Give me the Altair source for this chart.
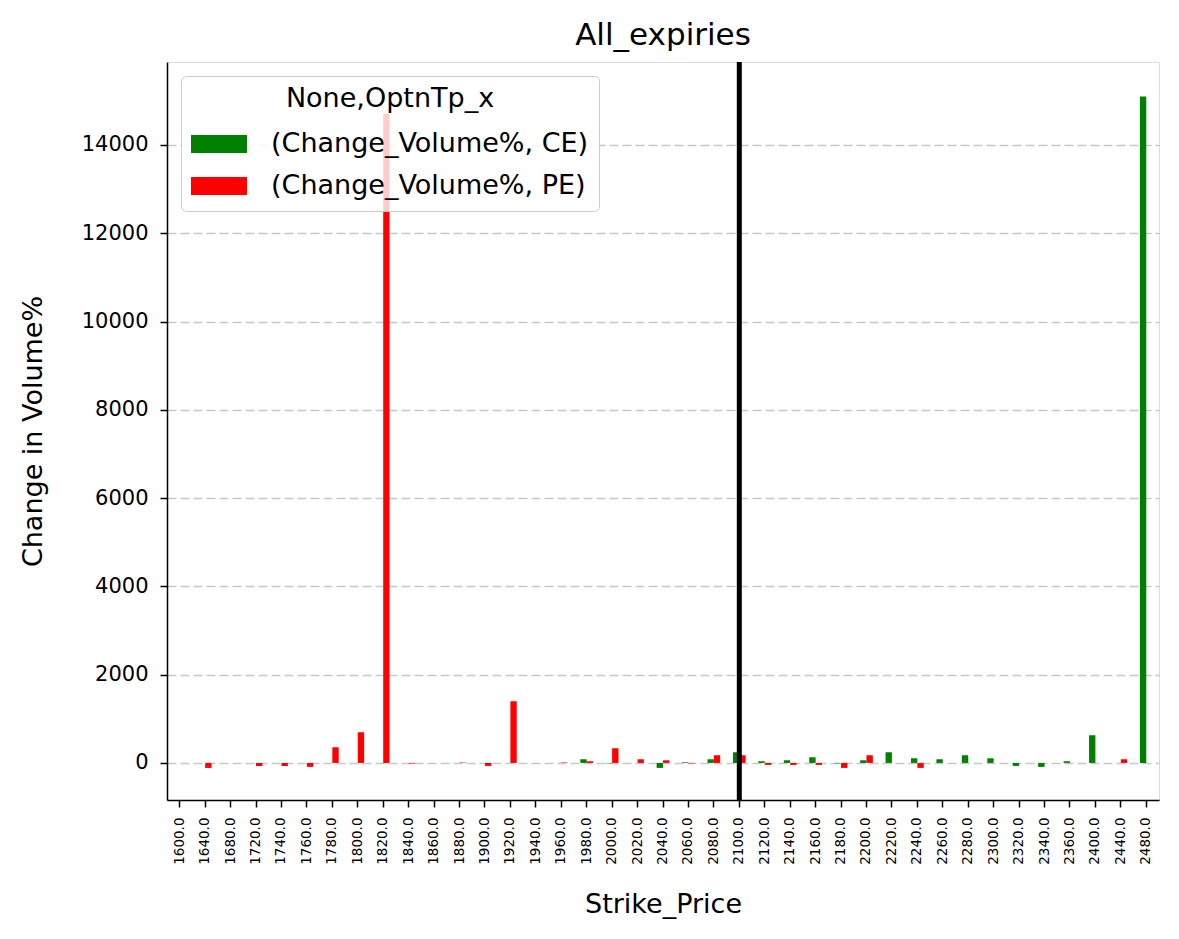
import altair as alt
import pandas as pd

# ---- data ----
strikes = [1600, 1640, 1680, 1720, 1740, 1760, 1780, 1800, 1820, 1840, 1860, 1880,
           1900, 1920, 1940, 1960, 1980, 2000, 2020, 2040, 2060, 2080, 2100, 2120,
           2140, 2160, 2180, 2200, 2220, 2240, 2260, 2280, 2300, 2320, 2340, 2360,
           2400, 2440, 2480]
strike_labels = ["%.1f" % s for s in strikes]

ce_change = [0, 0, 0, 0, 0, 0, 0, 0, 0, 0, 0, 0,
             0, 0, 0, 0, 83, -10, 0, -113, 15, 83, 242, 38,
             60, 128, -10, 60, 242, 105, 83, 174, 105, -68, -90, 38,
             627, 0, 15100]
pe_change = [0, -113, 0, -68, -68, -90, 355, 695, 14700, -15, 0, 10,
             -68, 1397, 0, 10, 38, 332, 83, 60, -10, 174, 174, -45,
             -45, -45, -113, 174, 0, -113, 0, 0, 0, 0, 0, 0,
             0, 83, 0]

series_names = ["(Change_Volume%, CE)", "(Change_Volume%, PE)"]
series_colors = ["#008000", "#ff0000"]
atm_strike = ["2100.0"]
y_ticks = [0, 2000, 4000, 6000, 8000, 10000, 12000, 14000]

rows = []
for lab, ce, pe in zip(strike_labels, ce_change, pe_change):
    rows.append({"strike": lab, "series": series_names[0], "value": ce})
    rows.append({"strike": lab, "series": series_names[1], "value": pe})
df = pd.DataFrame(rows)
df_rule = pd.DataFrame({"strike": atm_strike})

FONT = "DejaVu Sans"

x_enc = alt.X(
    "strike:N",
    sort=strike_labels,
    scale=alt.Scale(domain=strike_labels, paddingInner=0, paddingOuter=0),
    axis=alt.Axis(
        title="Strike_Price",
        labelAngle=270,
        labelFontSize=13.5,
        labelFont=FONT,
        labelColor="black",
        tickSize=7,
        tickWidth=1.5,
        tickColor="black",
        labelPadding=10,
        titleFontSize=27,
        titleFont=FONT,
        titleFontWeight="normal",
        titleColor="black",
        titlePadding=27,
        domainColor="black",
        domainWidth=1.5,
        grid=False,
    ),
)

bars = alt.Chart(df).mark_bar().encode(
    x=x_enc,
    xOffset=alt.XOffset(
        "series:N",
        scale=alt.Scale(domain=series_names, paddingInner=0, paddingOuter=1),
    ),
    y=alt.Y(
        "value:Q",
        scale=alt.Scale(domain=[-840, 15880], nice=False, zero=False),
        axis=alt.Axis(
            title="Change in Volume%",
            values=y_ticks,
            format="d",
            labelFontSize=21,
            labelFont=FONT,
            labelColor="black",
            tickSize=7,
            tickWidth=1.5,
            tickColor="black",
            labelPadding=12,
            titleFontSize=27,
            titleFont=FONT,
            titleFontWeight="normal",
            titleColor="black",
            titlePadding=34,
            grid=True,
            gridDash=[9, 4],
            gridColor="#c8c8c8",
            gridWidth=1.5,
            domainColor="black",
            domainWidth=1.5,
        ),
    ),
    color=alt.Color(
        "series:N",
        scale=alt.Scale(domain=series_names, range=series_colors),
        legend=alt.Legend(
            title="None,OptnTp_x",
            orient="none",
            legendX=14,
            legendY=14,
            titleFontSize=27,
            titleFont=FONT,
            titleFontWeight="normal",
            titleColor="black",
            titleAnchor="middle",
            titleAlign="center",
            titlePadding=16,
            titleLimit=600,
            labelFontSize=27,
            labelFont=FONT,
            labelColor="black",
            labelLimit=600,
            labelOffset=24,
            symbolType="M-1,-0.32H1V0.32H-1Z",
            symbolSize=3136,
            symbolStrokeWidth=0,
            symbolOpacity=1,
            clipHeight=30,
            rowPadding=12,
            padding=10,
            fillColor="rgba(255,255,255,0.8)",
            strokeColor="#cccccc",
            cornerRadius=5,
        ),
    ),
)

rule = alt.Chart(df_rule).mark_rule(color="black", strokeWidth=5).encode(
    x=alt.X("strike:N", sort=strike_labels, bandPosition=0.5),
)

chart = (
    alt.layer(bars, rule)
    .properties(
        width=992,
        height=738,
        autosize=alt.AutoSizeParams(type="none"),
        padding={"left": 167, "top": 62, "right": 20, "bottom": 139},
        title=alt.Title(
            "All_expiries",
            fontSize=31,
            font=FONT,
            fontWeight="normal",
            color="black",
            anchor="middle",
            baseline="alphabetic",
            offset=-16,
        ),
    )
    .configure_view(stroke="black", strokeWidth=1.5)
    .configure(background="white")
)

chart.save("out.html", embed_options={"renderer": "svg", "actions": False})
